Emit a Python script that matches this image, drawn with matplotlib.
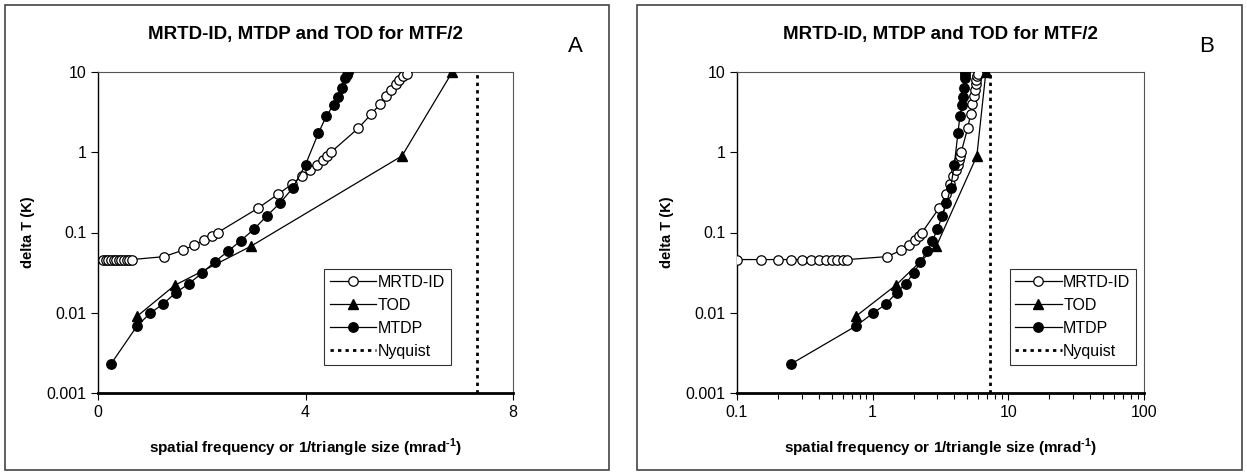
import matplotlib.pyplot as plt
from matplotlib.patches import Rectangle
from matplotlib.ticker import LogLocator

plt.rcParams['font.family'] = ['Liberation Sans', 'DejaVu Sans']
plt.rcParams['axes.unicode_minus'] = False
plt.rcParams['mathtext.fontset'] = 'custom'
plt.rcParams['mathtext.rm'] = 'Liberation Sans:bold'
plt.rcParams['mathtext.bf'] = 'Liberation Sans:bold'

# MRTD-ID (open circles)
mrtd_x = [0.10, 0.15, 0.20, 0.25, 0.30, 0.35, 0.40, 0.45, 0.50, 0.55, 0.60, 0.65,
          1.27, 1.63, 1.86, 2.04, 2.19, 2.31, 3.08, 3.47, 3.74, 3.93, 4.09, 4.23,
          4.33, 4.41, 4.49, 5.02, 5.27, 5.44, 5.56, 5.65, 5.74, 5.81, 5.88, 5.95]
mrtd_y = [0.046] * 12 + [0.05, 0.06, 0.07, 0.08, 0.09, 0.1, 0.2, 0.3, 0.4, 0.5,
                         0.6, 0.7, 0.8, 0.9, 1.0, 2, 3, 4, 5, 6, 7, 8, 9, 9.5]

# TOD (triangles)
tod_x = [0.75, 1.48, 2.94, 5.86, 6.83]
tod_y = [0.009, 0.022, 0.067, 0.9, 10]

# MTDP (filled circles)
mtdp_x = [0.25, 0.75, 1.0, 1.25, 1.5, 1.75, 2.0, 2.25, 2.5, 2.75, 3.0, 3.25, 3.5,
          3.75, 4.0, 4.25, 4.4, 4.54, 4.63, 4.70, 4.76, 4.80, 4.82]
mtdp_y = [0.0023, 0.0068, 0.0098, 0.0128, 0.0178, 0.023, 0.031, 0.043, 0.058,
          0.079, 0.109, 0.16, 0.23, 0.355, 0.70, 1.74, 2.8, 3.9, 4.9, 6.4, 8.3,
          9.3, 10]

nyquist = 7.3
y_ticks = [0.001, 0.01, 0.1, 1, 10]
y_labels = ['0.001', '0.01', '0.1', '1', '10']

W, H = 1247, 475
fig = plt.figure(figsize=(W / 100, H / 100), dpi=100)

# panel frames
for x0, x1 in [(5, 609), (637, 1242)]:
    fig.patches.append(Rectangle((x0 / W, 5 / H), (x1 - x0) / W, (470 - 5) / H,
                                 transform=fig.transFigure, fill=False,
                                 edgecolor='#444444', linewidth=1.2))


def draw(ax, logx):
    lw = 0.9
    ax.plot(mrtd_x, mrtd_y, '-o', color='black', lw=lw, ms=6.8,
            mfc='white', mec='black', mew=0.9, label='MRTD-ID', zorder=3)
    ax.plot(tod_x, tod_y, '-^', color='black', lw=lw, ms=7.2,
            mfc='black', label='TOD', zorder=3)
    ax.plot(mtdp_x, mtdp_y, '-o', color='black', lw=lw, ms=6.8,
            mfc='black', label='MTDP', zorder=3)
    ax.plot([nyquist, nyquist], [0.001, 10], color='black', lw=2,
            linestyle=(0, (1.2, 1.5)), label='Nyquist', zorder=2)
    ax.set_yscale('log')
    ax.set_ylim(0.001, 10)
    ax.set_yticks(y_ticks)
    ax.set_yticklabels(y_labels)
    ax.minorticks_off()
    if logx:
        ax.set_xscale('log')
        ax.set_xlim(0.1, 100)
        ax.set_xticks([0.1, 1, 10, 100])
        ax.set_xticklabels(['0.1', '1', '10', '100'])
        ax.xaxis.set_minor_locator(LogLocator(base=10, subs=range(2, 10)))
        ax.tick_params(axis='x', which='minor', direction='out', length=4, width=0.8)
    else:
        ax.set_xlim(0, 8)
        ax.set_xticks([0, 4, 8])
    ax.tick_params(axis='both', which='major', direction='out', length=5,
                   width=0.8, labelsize=11.5, colors='black')
    ax.yaxis.set_tick_params(which='minor', length=0)
    for s in ['top', 'right']:
        ax.spines[s].set_color('#555555')
        ax.spines[s].set_linewidth(0.8)
    ax.spines['left'].set_linewidth(1.0)
    ax.spines['bottom'].set_linewidth(2.0)
    ax.set_title('MRTD-ID, MTDP and TOD for MTF/2', fontsize=13.5,
                 fontweight='bold', pad=24)
    ax.set_xlabel('spatial frequency or 1/triangle size (mrad$^{\\text{-1}}$)',
                  fontsize=11, fontweight='bold', labelpad=12)
    ax.set_ylabel('delta T (K)', fontsize=10.5, fontweight='bold', labelpad=8)
    leg = ax.legend(loc='upper left', bbox_to_anchor=(0.545 if not logx else 0.67, 0.385),
                    fontsize=11.5, frameon=True, fancybox=False, edgecolor='black',
                    handlelength=2.9, handletextpad=0.1, borderpad=0.35,
                    labelspacing=0.5, borderaxespad=0)
    leg.get_frame().set_linewidth(0.8)


ax1 = fig.add_axes([98 / W, (H - 393) / H, 415 / W, 321 / H])
draw(ax1, False)
ax2 = fig.add_axes([737 / W, (H - 393) / H, 407 / W, 321 / H])
draw(ax2, True)

fig.text(575 / W, 1 - 46 / H, 'A', fontsize=16, ha='center', va='center')
fig.text(1207 / W, 1 - 46 / H, 'B', fontsize=16, ha='center', va='center')

fig.savefig('out.png', dpi=100)
